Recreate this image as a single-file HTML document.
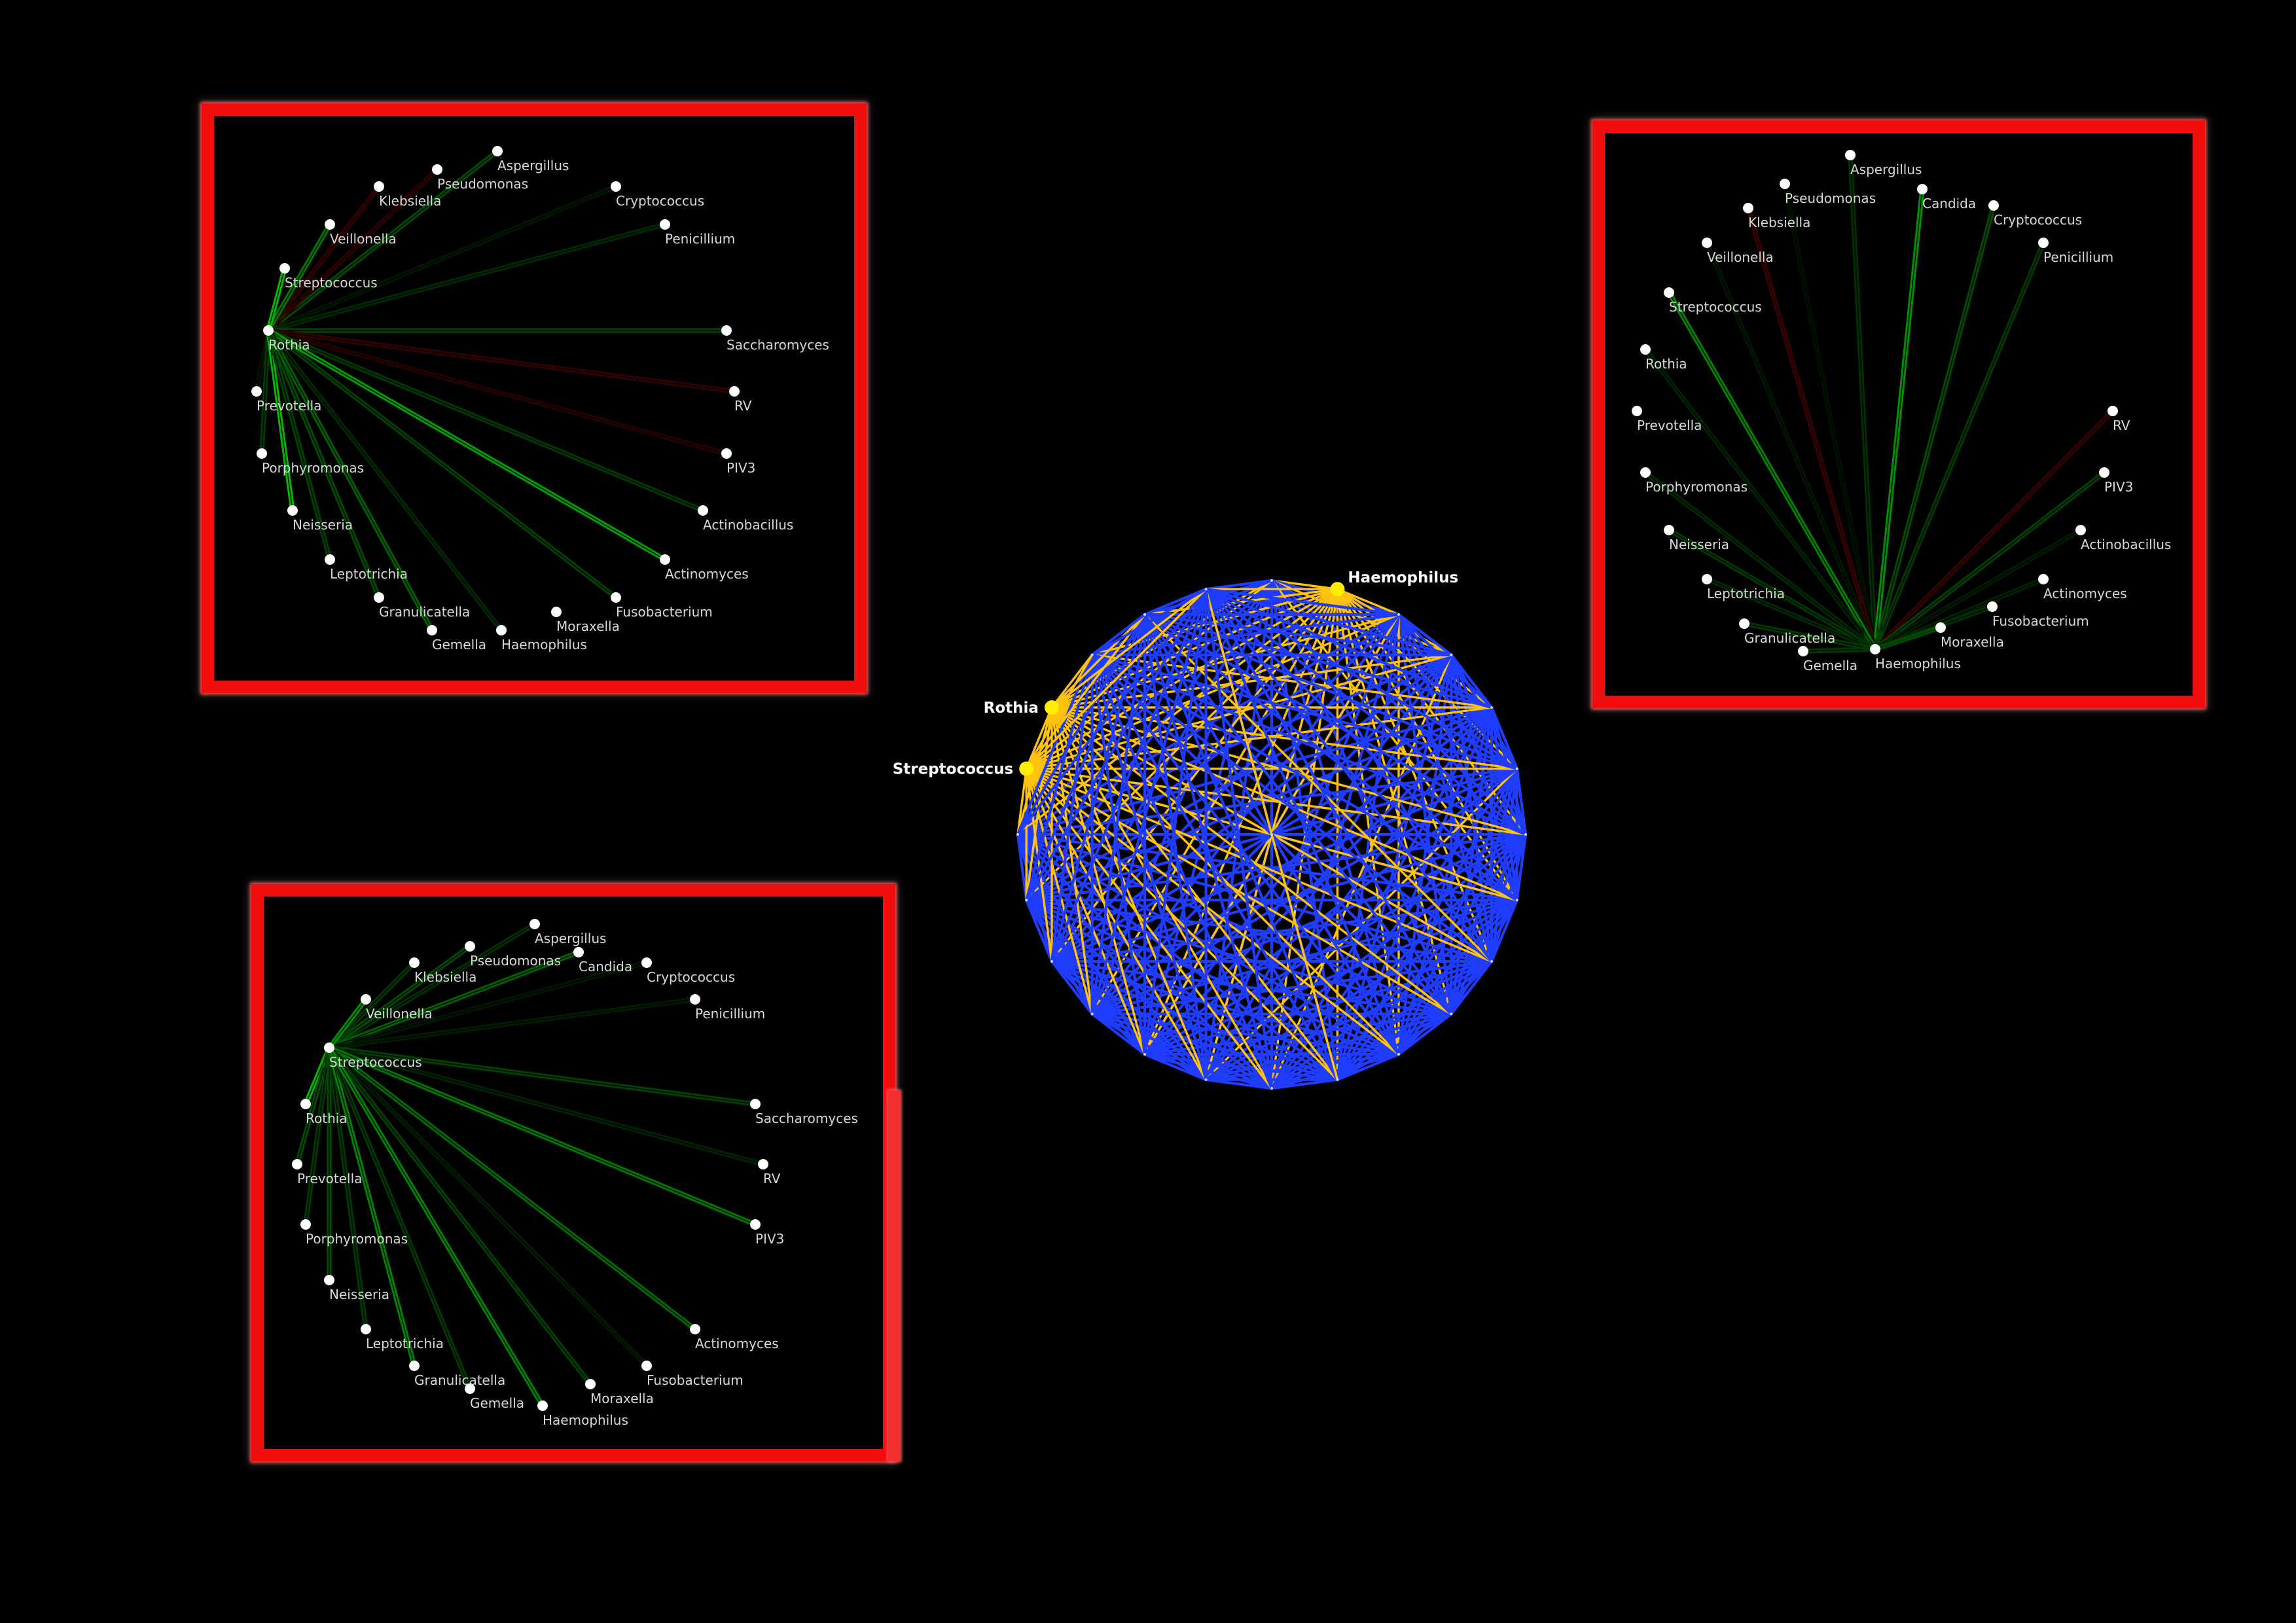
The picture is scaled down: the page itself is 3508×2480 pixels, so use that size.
<!DOCTYPE html>
<html><head><meta charset="utf-8"><style>
html,body{margin:0;padding:0;background:#000;}
#wrap{position:relative;width:3508px;height:2480px;background:#000;overflow:hidden;font-family:"DejaVu Sans","Liberation Sans",sans-serif;}
.frame{position:absolute;box-sizing:border-box;border:19px solid #f20d0d;box-shadow:0 0 5px 2px #ff5a5a, 0 0 14px 4px rgba(60,60,60,0.7);}
svg{position:absolute;left:0;top:0;}
</style></head><body>
<div id="wrap">
<div class="frame" style="left:308px;top:158px;width:1016px;height:901px;"></div>
<div class="frame" style="left:2433px;top:184px;width:936px;height:898px;"></div>
<div class="frame" style="left:384px;top:1351px;width:984px;height:882px;"></div>
<div style="position:absolute;left:1357px;top:1666px;width:19px;height:567px;background:#f23030;box-shadow:0 0 5px 1px #ff6a6a;"></div>
<svg id="chart" width="3508" height="2480" viewBox="0 0 3508 2480" xmlns="http://www.w3.org/2000/svg"></svg>
</div>
<script>
// ---- data ----
const panel1Names = ["Aspergillus","Pseudomonas","Klebsiella","Cryptococcus","Veillonella","Penicillium","Streptococcus","Rothia","Saccharomyces","Prevotella","RV","Porphyromonas","PIV3","Neisseria","Actinobacillus","Leptotrichia","Actinomyces","Granulicatella","Fusobacterium","Moraxella","Gemella","Haemophilus"];
const rothiaWeights = [0.5,-0.25,-0.3,0.15,0.7,0.3,0.95,0,0.45,0.1,-0.3,0.4,-0.15,0.95,0.4,0.45,0.85,0.5,0.45,0,0.6,0.3];
const panel2Names = ["Aspergillus","Pseudomonas","Candida","Klebsiella","Cryptococcus","Veillonella","Penicillium","Streptococcus","Rothia","Prevotella","RV","Porphyromonas","PIV3","Neisseria","Actinobacillus","Leptotrichia","Actinomyces","Granulicatella","Fusobacterium","Gemella","Moraxella","Haemophilus"];
const haemophilusWeights = [0.35,0.05,0.8,-0.4,0.5,0.15,0.4,0.75,0.25,0,-0.35,0.3,0.45,0.4,0.2,0.3,0.25,0.4,0.35,0.4,0.5,0];
const panel3Names = ["Aspergillus","Pseudomonas","Klebsiella","Candida","Cryptococcus","Veillonella","Penicillium","Streptococcus","Rothia","Saccharomyces","Prevotella","RV","Porphyromonas","PIV3","Neisseria","Leptotrichia","Actinomyces","Granulicatella","Fusobacterium","Gemella","Moraxella","Haemophilus"];
const streptococcusWeights = [0.35,0.5,0.4,0.6,0.15,0.8,0.2,0,0.95,0.45,0.5,0.25,0.4,0.7,0.5,0.4,0.65,0.75,0.2,0.4,0.45,0.75];
// central network
const networkHighlights = [1,19,20];
const highlightLabels = ["Haemophilus","Streptococcus","Rothia"];
const extraYellowEdges = [[21,4],[22,8],[0,3],[2,14],[23,11],[3,12],[2,10],[0,7],[5,13]];

// ---- layout (pixel positions of nodes per panel) ----
const layout1 = [[760,231],[668,259],[579,285],[941,285],[504,343],[1016,343],[435,410],[410,505],[1110,505],[392,598],[1122,598],[400,693],[1110,693],[447,780],[1074,780],[504,855],[1016,855],[579,913],[941,913],[850,935],[660,963],[766,963]];
const layout2 = [[2827,237],[2727,281],[2937,289],[2671,318],[3046,314],[2608,371],[3122,371],[2550,447],[2514,534],[2501,628],[3228,628],[2514,722],[3215,722],[2550,810],[3179,810],[2608,885],[3122,885],[2665,953],[3044,927],[2755,995],[2965,959],[2865,992]];
const layout3 = [[817,1412],[718,1446],[633,1471],[884,1455],[988,1471],[559,1527],[1062,1527],[503,1601],[467,1687],[1154,1687],[454,1779],[1166,1779],[467,1871],[1154,1871],[503,1956],[559,2031],[1062,2031],[633,2087],[988,2087],[718,2122],[902,2115],[829,2148]];

const NS="http://www.w3.org/2000/svg";
const svg=document.getElementById('chart');
function mk(tag,attrs,parent){const e=document.createElementNS(NS,tag);for(const k in attrs)e.setAttribute(k,attrs[k]);(parent||svg).appendChild(e);return e;}

function edgeColor(w){
  const a=Math.abs(w);
  if(w>=0){return 'rgb(0,'+Math.round(15+185*Math.pow(a,1.6))+',0)';}
  return 'rgb('+Math.round(25+90*a)+',0,0)';
}

function drawPanel(names,layout,weights,hubName,panelName){
  const g=mk('g',{});
  
  
  const hi=names.indexOf(hubName);
  const hub=layout[hi];
  names.forEach((n,i)=>{
    if(i===hi)return;
    const w=weights[i];
    if(Math.abs(w)<0.02)return;
    const p=layout[i];
    const dx=p[0]-hub[0],dy=p[1]-hub[1],L=Math.hypot(dx,dy)||1;
    const ox=-dy/L*2.2,oy=dx/L*2.2;
    [1,-1].forEach(s=>{
      const ln=mk('line',{x1:hub[0]+ox*s,y1:hub[1]+oy*s,x2:p[0]+ox*s,y2:p[1]+oy*s,stroke:edgeColor(w),'stroke-width':3},g);
      
      
    });
  });
  names.forEach((n,i)=>{
    const p=layout[i];
    const c=mk('circle',{cx:p[0],cy:p[1],r:8,fill:'#fff'},g);
    
    
    const t=mk('text',{x:p[0],y:p[1]+29,fill:'#d8d8d8','font-size':20,'font-family':'DejaVu Sans, Liberation Sans, sans-serif'},g);
    t.textContent=n;
    
    
  });
}
drawPanel(panel1Names,layout1,rothiaWeights,'Rothia','rothia-panel');
drawPanel(panel2Names,layout2,haemophilusWeights,'Haemophilus','haemophilus-panel');
drawPanel(panel3Names,layout3,streptococcusWeights,'Streptococcus','streptococcus-panel');

// central network
const cx=1943,cy=1275,R=388;
const pts=[[cx,cy]];
for(let k=0;k<24;k++){const a=(90-15*k)*Math.PI/180;pts.push([cx+R*Math.cos(a),cy-R*Math.sin(a)]);}
const ng=mk('g',{});


function outer(k){return pts[k+1];}
const hiIdx=networkHighlights.map(k=>k+1);
const yellowSet=new Set();
for(let i=0;i<pts.length;i++)for(let j=i+1;j<pts.length;j++){
  if(hiIdx.includes(i)||hiIdx.includes(j))yellowSet.add(i+'-'+j);
}
extraYellowEdges.forEach(e=>{const a=e[0]+1,b=e[1]+1;const i=Math.min(a,b),j=Math.max(a,b);yellowSet.add(i+'-'+j);});
for(let i=0;i<pts.length;i++)for(let j=i+1;j<pts.length;j++){
  const y=yellowSet.has(i+'-'+j);
  const ln=mk('line',{x1:pts[i][0],y1:pts[i][1],x2:pts[j][0],y2:pts[j][1],stroke:y?'#ffc20e':'#1f3cff','stroke-width':y?3.4:4.2},ng);
  
  
}
for(let i=0;i<pts.length;i++){
  const c=mk('circle',{cx:pts[i][0],cy:pts[i][1],r:2,fill:'#cfd6ff'},ng);
  
  
}
networkHighlights.forEach((k,idx)=>{
  const p=outer(k);
  const c=mk('circle',{cx:p[0],cy:p[1],r:11,fill:'#ffee00'},ng);
  
  
  const left=p[0]<cx;
  const t=mk('text',{x:left?p[0]-20:p[0]+16,y:left?p[1]+8:p[1]-10,fill:'#fff','font-size':23,'font-weight':'bold','text-anchor':left?'end':'start','font-family':'DejaVu Sans, Liberation Sans, sans-serif'},ng);
  t.textContent=highlightLabels[idx];
  
  
});
</script>
</body></html>
